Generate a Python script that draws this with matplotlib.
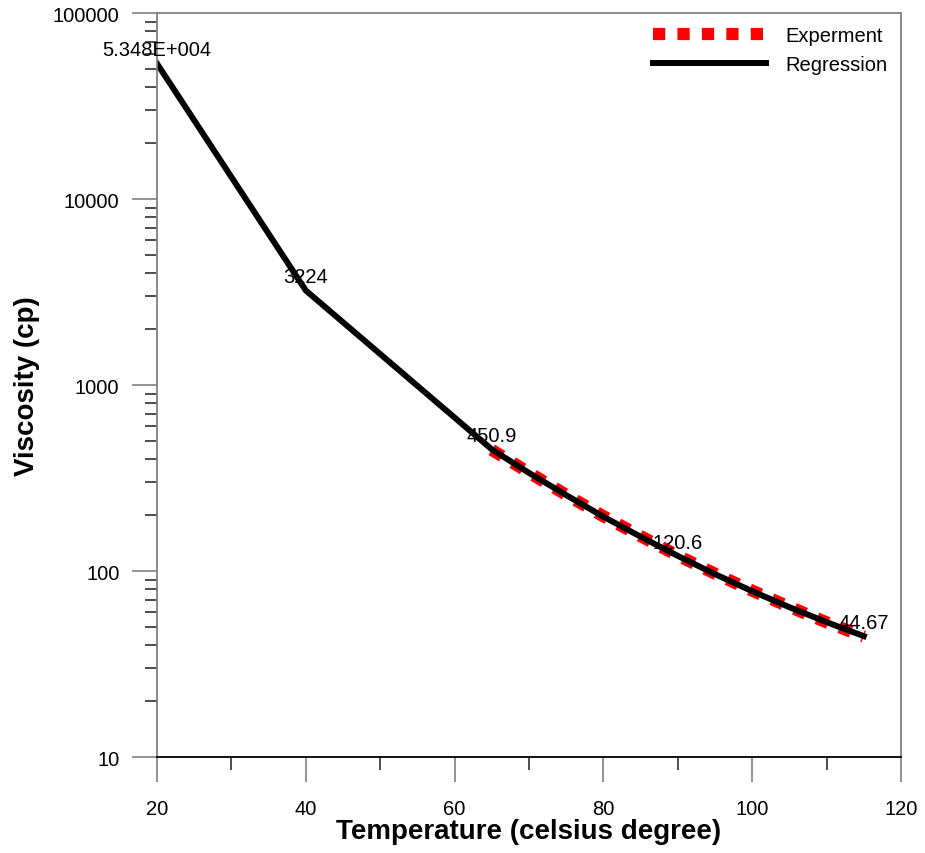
import numpy as np
import matplotlib
matplotlib.use("Agg")
import matplotlib.pyplot as plt
import matplotlib.ticker as mticker

plt.rcParams['font.family'] = ['Liberation Sans', 'DejaVu Sans']

# regression curve (temperature in C, viscosity in cp)
reg_temp = [20, 40, 65, 70, 75, 80, 85, 90, 95, 100, 105, 110, 115]
reg_visc = [53480, 3224, 450.9, 337, 256, 196, 153, 120.6, 96.2, 77.9, 63.9, 53.1, 44.67]

# experimental data
exp_temp = [65, 70, 75, 80, 85, 90, 95, 100, 105, 110, 115]
exp_visc = [448, 338, 257, 197, 154, 121, 96.8, 78.4, 64.2, 53.0, 44.4]

# labelled points
lab_temp = [20, 40, 65, 90, 115]
lab_visc = [53480, 3224, 450.9, 120.6, 44.67]
lab_text = ['5.348E+004', '3224', '450.9', '120.6', '44.67']

yticks = [10, 100, 1000, 10000, 100000]
xticks = [20, 40, 60, 80, 100, 120]

fig = plt.figure(figsize=(9.25, 8.54), dpi=100)
ax = fig.add_axes([0.1697, 0.1124, 0.8043, 0.8712])

ax.plot(exp_temp, exp_visc, color='red', lw=8.8, dashes=(1.0, 1.0),
        label='Experment', dash_capstyle='butt')
ax.plot(reg_temp, reg_visc, color='black', lw=4.3, label='Regression')

for t, v, s in zip(lab_temp, lab_visc, lab_text):
    ax.annotate(s, (t, v), xytext=(0, 3), textcoords='offset points',
                ha='center', va='bottom', fontsize=14.5)

ax.set_yscale('log')
ax.set_xlim(20, 120)
ax.set_ylim(10, 100000)
ax.set_xticks(xticks)
ax.xaxis.set_minor_locator(mticker.FixedLocator([30, 50, 70, 90, 110]))
ax.set_yticks(yticks)
ax.yaxis.set_major_formatter(mticker.FuncFormatter(lambda v, p: '%d' % v))
ax.yaxis.set_minor_locator(mticker.LogLocator(base=10, subs=np.arange(2, 10)))
ax.yaxis.set_minor_formatter(mticker.NullFormatter())

ax.tick_params(axis='both', which='major', direction='out', length=18,
               width=1.2, color='#808080', labelsize=14.5)
ax.tick_params(axis='x', which='major', pad=12)
ax.tick_params(axis='y', which='major', pad=9)
ax.tick_params(axis='both', which='minor', direction='out', length=9,
               width=1.2, color='#303030')

for side in ['left', 'top', 'right']:
    ax.spines[side].set_color('#808080')
    ax.spines[side].set_linewidth(1.3)
ax.spines['bottom'].set_color('black')
ax.spines['bottom'].set_linewidth(1.3)

ax.set_xlabel('Temperature (celsius degree)', fontsize=20, fontweight='bold',
              labelpad=0)
ax.set_ylabel('Viscosity (cp)', fontsize=20, fontweight='bold', labelpad=9)

ax.legend(loc='upper right', frameon=False, fontsize=14.5, handlelength=5.6,
          handletextpad=1.0, labelspacing=0.5, borderaxespad=0.25)

fig.savefig('out.png', dpi=100)
